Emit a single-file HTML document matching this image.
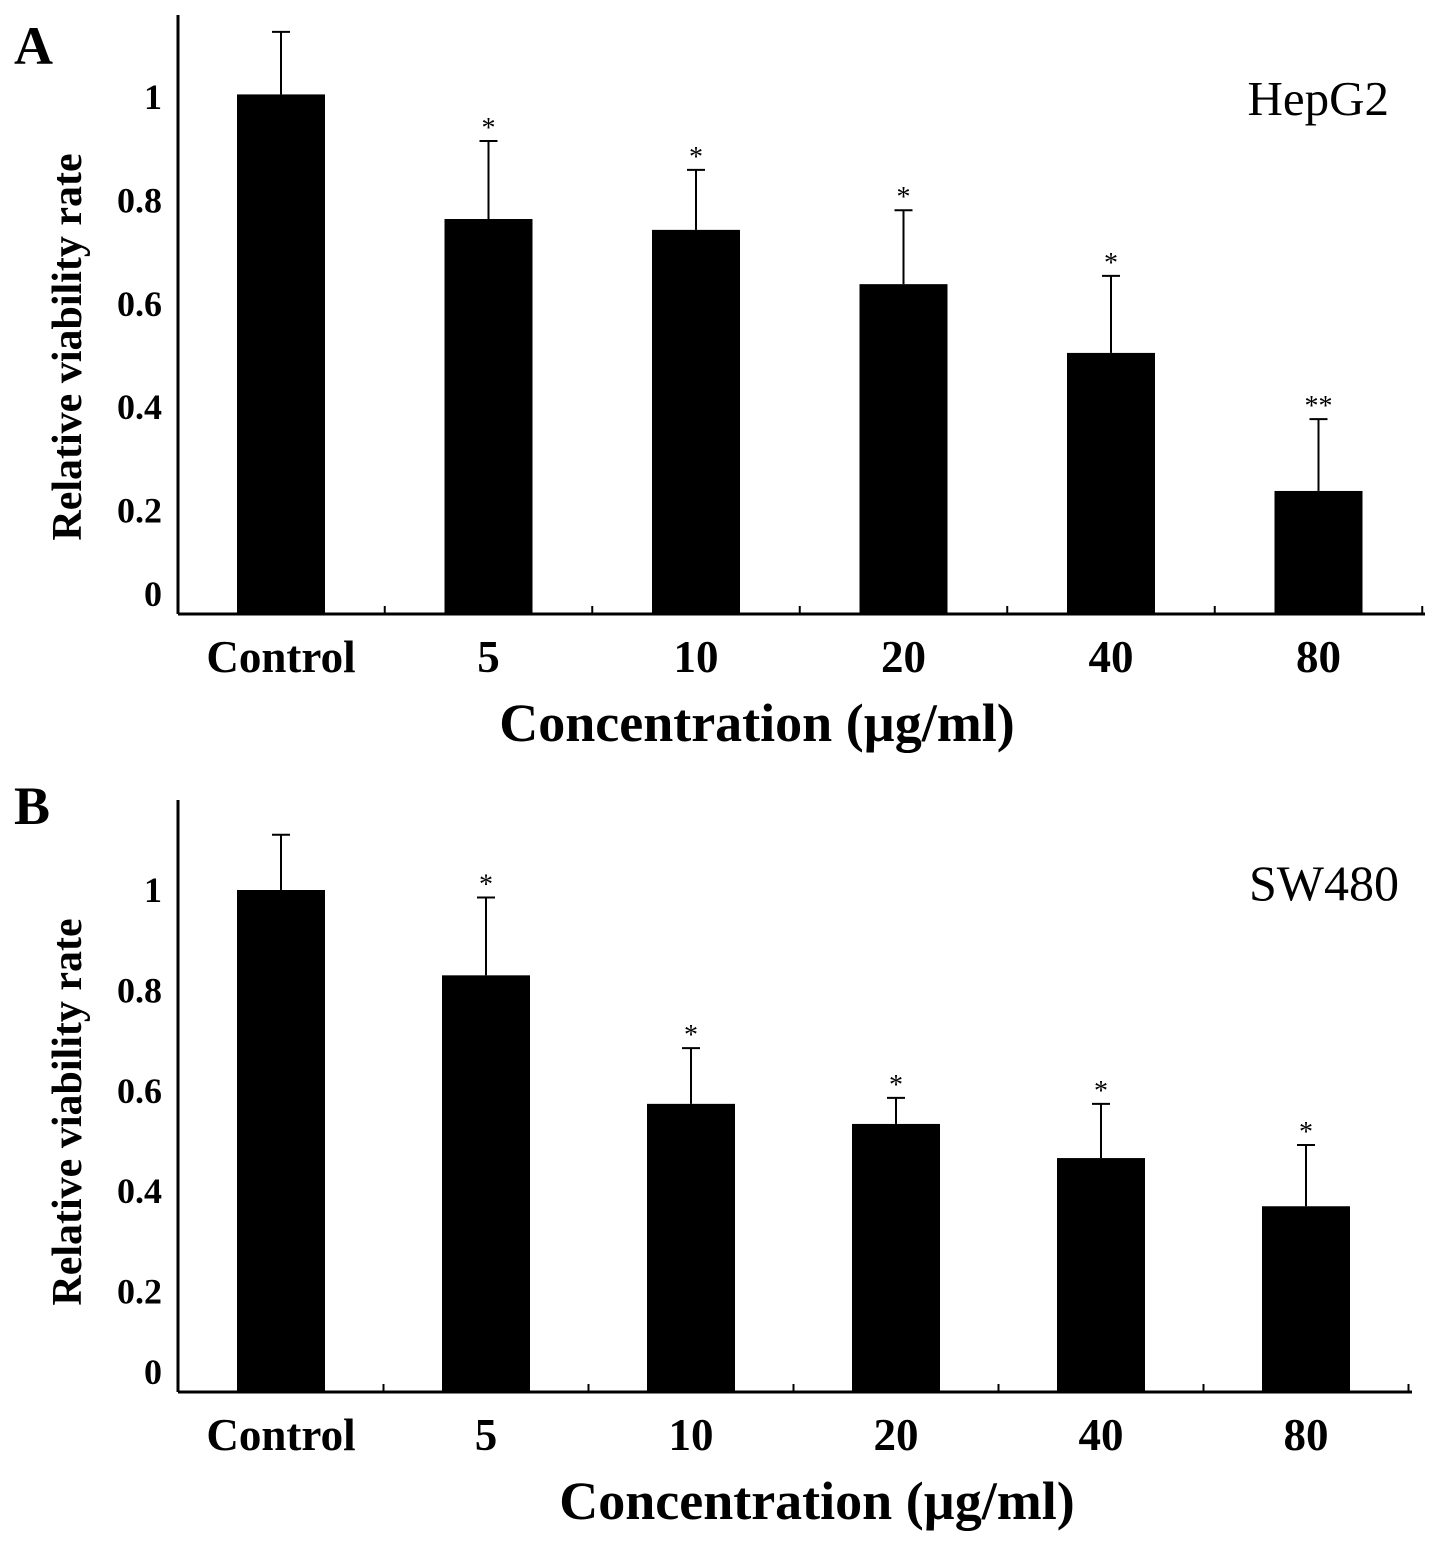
<!DOCTYPE html>
<html><head><meta charset="utf-8">
<style>
html,body{margin:0;padding:0;background:#fff;}
svg{display:block;font-family:"Liberation Serif",serif;}
</style></head>
<body>
<svg id="chart" width="1441" height="1544" viewBox="0 0 1441 1544" xmlns="http://www.w3.org/2000/svg"></svg>
<script>
const categories = ["Control","5","10","20","40","80"];
const yTicks = [0,0.2,0.4,0.6,0.8,1];
const yTickLabels = ["0","0.2","0.4","0.6","0.8","1"];
const hepMeans = [1.005,0.764,0.743,0.638,0.505,0.238];
const hepErr = [0.121,0.151,0.116,0.143,0.149,0.139];
const hepSig = ["","*","*","*","*","**"];
const swMeans = [1.0,0.83,0.574,0.534,0.466,0.37];
const swErr = [0.11,0.155,0.111,0.052,0.108,0.122];
const swSig = ["","*","*","*","*","*"];

const NS="http://www.w3.org/2000/svg";
const svg=document.getElementById('chart');
function mk(tag,attrs,parent){const e=document.createElementNS(NS,tag);for(const k in attrs)e.setAttribute(k,attrs[k]);(parent||svg).appendChild(e);return e;}

function panel(cfg,means,errs,sig){
  const g=mk('g',{});
  
  
  const y=v=>cfg.base - v*cfg.scale;
  const x=i=>cfg.x0 + i*cfg.step;
  const ya=mk('line',{x1:178,y1:cfg.top,x2:178,y2:cfg.base,stroke:'#000','stroke-width':3},g);
  
  const xa=mk('line',{x1:178,y1:cfg.base,x2:cfg.xEnd,y2:cfg.base,stroke:'#000','stroke-width':3},g);
  
  for(let i=0;i<categories.length;i++){
    const tx=x(i)+cfg.step/2;
    const t=mk('line',{x1:tx,y1:cfg.base,x2:tx,y2:cfg.base-8,stroke:'#000','stroke-width':2},g);
    
  }
  yTicks.forEach((v,i)=>{
    const t=mk('text',{x:162,y:(v===0?cfg.base-8:y(v)+12),'text-anchor':'end','font-size':36,'font-weight':'bold'},g);
    t.textContent=yTickLabels[i];
    
  });
  means.forEach((m,i)=>{
    const cx=x(i);
    const b=mk('rect',{x:cx-44,y:y(m),width:88,height:cfg.base-y(m),fill:'#000'},g);
    
    const et=y(m+errs[i]);
    const e=mk('line',{x1:cx,y1:y(m),x2:cx,y2:et,stroke:'#000','stroke-width':2},g);
    
    const c=mk('line',{x1:cx-9,y1:et,x2:cx+9,y2:et,stroke:'#000','stroke-width':2},g);
    
    if(sig[i]){
      const s=mk('text',{x:cx,y:et-4,'text-anchor':'middle','font-size':28},g);
      s.textContent=sig[i];
      
    }
    const l=mk('text',{x:cx,y:cfg.base+58,'text-anchor':'middle','font-size':45,'font-weight':'bold'},g);
    l.textContent=categories[i];
    
  });
  const xt=mk('text',{x:cfg.xTitleX,y:cfg.base+127,'text-anchor':'middle','font-size':54,'font-weight':'bold'},g);
  xt.textContent='Concentration (µg/ml)';
  
  const yt=mk('text',{x:0,y:0,transform:`translate(81,${cfg.yTitleC}) rotate(-90)`,'text-anchor':'middle','font-size':42,'font-weight':'bold'},g);
  yt.textContent='Relative viability rate';
  
  const lt=mk('text',{x:cfg.labelX,y:cfg.labelY,'text-anchor':'end','font-size':cfg.labelSize},g);
  lt.textContent=cfg.cell;
  
  const pl=mk('text',{x:14,y:cfg.letterY,'font-size':54,'font-weight':'bold'},g);
  pl.textContent=cfg.letter;
  
}
panel({name:'panel-a-hepg2',top:15,base:614,scale:517,x0:281,step:207.5,xEnd:1425,xTitleX:757,yTitleC:347,cell:'HepG2',labelX:1389,labelY:115,labelSize:49,letter:'A',letterY:64},hepMeans,hepErr,hepSig);
panel({name:'panel-b-sw480',top:800,base:1392,scale:502,x0:281,step:205,xEnd:1412,xTitleX:817,yTitleC:1112,cell:'SW480',labelX:1399,labelY:900,labelSize:50,letter:'B',letterY:824},swMeans,swErr,swSig);
</script>
</body></html>
